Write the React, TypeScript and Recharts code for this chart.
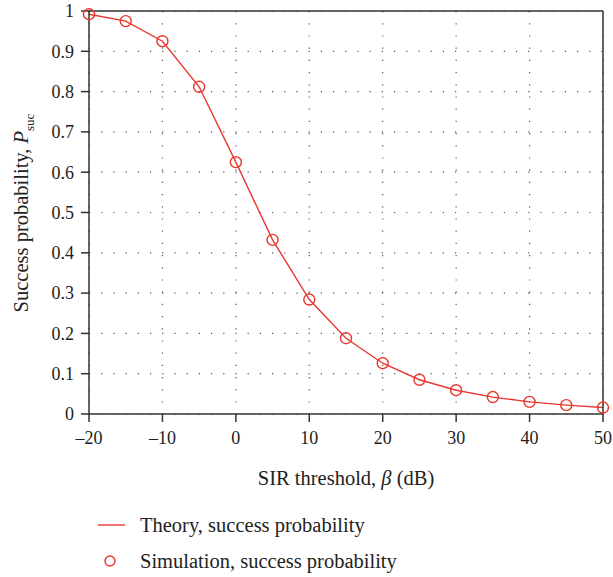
import {
  ComposedChart,
  Line,
  Scatter,
  XAxis,
  YAxis,
  CartesianGrid,
} from "recharts"

// SIR threshold (dB)
const sir = [-20, -15, -10, -5, 0, 5, 10, 15, 20, 25, 30, 35, 40, 45, 50]
const theory = [0.992, 0.975, 0.925, 0.812, 0.625, 0.432, 0.284, 0.188, 0.126, 0.085, 0.059, 0.042, 0.03, 0.022, 0.016]
const simulation = [0.992, 0.975, 0.925, 0.812, 0.625, 0.432, 0.284, 0.188, 0.126, 0.085, 0.059, 0.042, 0.03, 0.022, 0.016]

const xTicks = [-20, -10, 0, 10, 20, 30, 40, 50]
const yTicks = [0, 0.1, 0.2, 0.3, 0.4, 0.5, 0.6, 0.7, 0.8, 0.9, 1]

const data = sir.map((x, i) => ({ sir: x, theory: theory[i], sim: simulation[i] }))

const RED = "#e8382e"
const AXIS = "#333"
const FONT = "'Liberation Serif', 'Times New Roman', serif"

const tickStyle = { fontSize: 18, fill: "#222", fontFamily: FONT }

function fmtY(v: number) {
  return String(+v.toFixed(1))
}

function fmtX(v: number) {
  return v < 0 ? `\u2013${Math.abs(v)}` : String(v)
}

export default function App() {
  return (
    <div style={{ position: "absolute", left: 0, top: 0, width: 613, height: 577, background: "#fff", fontFamily: FONT, color: "#222" }}>
      <ComposedChart
        width={613}
        height={577}
        data={data}
        margin={{ top: 10, right: 9, bottom: 123, left: 29 }}
      >
        <CartesianGrid
          xAxisId="x"
          yAxisId="y"
          stroke="#555"
          strokeWidth={1.2}
          strokeDasharray="1.2 11"
          horizontalValues={yTicks}
          verticalValues={xTicks}
        />
        <XAxis
          xAxisId="x"
          dataKey="sir"
          type="number"
          domain={[-20, 50]}
          ticks={xTicks}
          tickFormatter={fmtX}
          height={40}
          tickSize={8}
          tickMargin={9}
          tick={tickStyle}
          axisLine={{ stroke: AXIS, strokeWidth: 1.5 }}
          tickLine={{ stroke: AXIS, strokeWidth: 1.5 }}
          interval={0}
        />
        {/* top edge of the frame */}
        <XAxis
          xAxisId="top"
          orientation="top"
          dataKey="sir"
          type="number"
          domain={[-20, 50]}
          ticks={xTicks}
          height={1}
          tick={false}
          tickLine={false}
          axisLine={{ stroke: AXIS, strokeWidth: 1.5 }}
        />
        <YAxis
          yAxisId="y"
          type="number"
          domain={[0, 1]}
          ticks={yTicks}
          tickFormatter={fmtY}
          width={60}
          tickSize={8}
          tickMargin={7}
          tick={tickStyle}
          axisLine={{ stroke: AXIS, strokeWidth: 1.5 }}
          tickLine={{ stroke: AXIS, strokeWidth: 1.5 }}
          interval={0}
        />
        {/* right edge of the frame */}
        <YAxis
          yAxisId="right"
          orientation="right"
          type="number"
          domain={[0, 1]}
          ticks={yTicks}
          width={1}
          tick={false}
          tickLine={false}
          axisLine={{ stroke: AXIS, strokeWidth: 1.5 }}
        />
        <Line
          xAxisId="x"
          yAxisId="y"
          type="linear"
          dataKey="theory"
          stroke={RED}
          strokeWidth={1.4}
          dot={false}
          activeDot={false}
          isAnimationActive={false}
        />
        <Scatter
          xAxisId="top"
          yAxisId="right"
          dataKey="sim"
          fill="none"
          isAnimationActive={false}
          shape={(p: any) => (
            <circle cx={p.cx} cy={p.cy} r={5.5} fill="none" stroke={RED} strokeWidth={1.4} />
          )}
        />
      </ComposedChart>

      <div
        style={{
          position: "absolute",
          left: 24,
          top: 213,
          transform: "translate(-50%, -50%) rotate(-90deg)",
          whiteSpace: "nowrap",
          fontSize: 20.5,
        }}
      >
        Success probability, <i>P</i>
        <sub style={{ fontSize: 13 }}>suc</sub>
      </div>

      <div
        style={{
          position: "absolute",
          left: 346,
          top: 478,
          transform: "translate(-50%, -50%)",
          whiteSpace: "nowrap",
          fontSize: 20.5,
        }}
      >
        SIR threshold, <i>β</i> (dB)
      </div>

      <svg width={613} height={80} style={{ position: "absolute", left: 0, top: 505 }}>
        <line x1={98} x2={125} y1={20} y2={20} stroke={RED} strokeWidth={1.4} />
        <text x={140} y={27} fontSize={20.5} fontFamily={FONT} fill="#222">
          Theory, success probability
        </text>
        <circle cx={110} cy={56} r={5} fill="none" stroke={RED} strokeWidth={1.4} />
        <text x={140} y={63} fontSize={20.5} fontFamily={FONT} fill="#222">
          Simulation, success probability
        </text>
      </svg>
    </div>
  )
}
